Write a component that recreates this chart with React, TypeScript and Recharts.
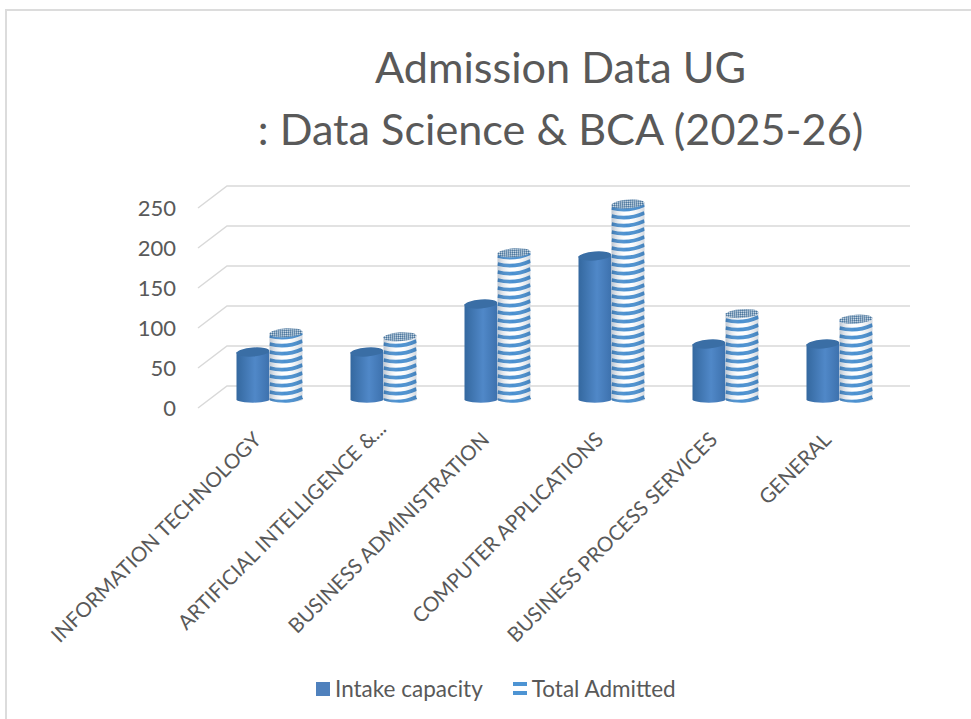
import React from 'react';
import { BarChart, Bar, XAxis, YAxis, CartesianGrid } from 'recharts';

const categories = [
  'INFORMATION TECHNOLOGY',
  'ARTIFICIAL INTELLIGENCE &...',
  'BUSINESS ADMINISTRATION',
  'COMPUTER APPLICATIONS',
  'BUSINESS PROCESS SERVICES',
  'GENERAL',
];
const intakeCapacity = [60, 60, 120, 180, 70, 70];
const totalAdmitted = [84, 79, 184, 245, 108, 101];
const yTicks = [0, 50, 100, 150, 200, 250];

const chartData = categories.map((name, i) => ({
  name,
  intake: intakeCapacity[i],
  admitted: totalAdmitted[i],
}));

const FONT = 'Lato, sans-serif';
const TEXT = '#595959';

// gridlines run along the floor of the 3D box, then across the back wall
const GridLine = ({ x1, x2, y1 }: any) => (
  <polyline
    points={`${x1 - 14.5},${y1 + 8} ${x1 + 14.5},${y1 - 14} ${x2 + 13.5},${y1 - 14}`}
    fill="none"
    stroke="#d9d9d9"
    strokeWidth={1.5}
  />
);

const IntakeBar = ({ x, y, width, height }: any) => {
  const rx = width / 2;
  const cx = x + rx;
  const bottom = y + height;
  return (
    <g>
      <path
        d={`M${x},${y} L${x},${bottom} A${rx},3.5 0 0 0 ${x + width},${bottom - 2} L${x + width},${y} Z`}
        fill="url(#intakeBody)"
      />
      <ellipse cx={cx} cy={y} rx={rx} ry={4.5} fill="#3a6ea5" transform={`rotate(-4 ${cx} ${y})`} />
    </g>
  );
};

const AdmittedBar = ({ x, y, width, height }: any) => {
  const rx = width / 2;
  const cx = x + rx;
  const bottom = y + height;
  const period = 8;
  const count = Math.ceil(height / period) + 1;
  const bands = [];
  for (let i = 0; i < count; i++) {
    const by = bottom - i * period;
    bands.push(
      <path
        key={i}
        d={`M${x},${by} Q${cx},${by + 4.5} ${x + width},${by - 3}`}
        fill="none"
        stroke="#4a90d0"
        strokeWidth={3.8}
      />,
    );
  }
  const clipId = `cyl-${Math.round(x)}`;
  const body = `M${x},${y} L${x},${bottom} A${rx},3.5 0 0 0 ${x + width},${bottom - 2} L${x + width},${y} Z`;
  return (
    <g>
      <clipPath id={clipId}>
        <path d={body} />
      </clipPath>
      <path d={body} fill="#ffffff" />
      <g clipPath={`url(#${clipId})`}>{bands}</g>
      <path d={body} fill="url(#admittedShade)" />
      <ellipse cx={cx} cy={y} rx={rx} ry={4.5} fill="url(#admittedTop)" transform={`rotate(-4 ${cx} ${y})`} />
    </g>
  );
};

const XTick = ({ x, y, payload }: any) => {
  // the truncated label sits further up its slope than the others
  const slide = payload.value.endsWith('...') ? 11 : 0;
  const tx = x - 7 + slide;
  const ty = y + 33 - slide;
  return (
    <text
      x={tx}
      y={ty}
      textAnchor="end"
      fontFamily={FONT}
      fontSize={20.5}
      fill={TEXT}
      transform={`rotate(-45 ${tx} ${ty})`}
    >
      {payload.value}
    </text>
  );
};

const YTick = ({ y, payload }: any) => (
  <text x={176} y={y + 16} textAnchor="end" fontFamily={FONT} fontSize={22} fill={TEXT}>
    {payload.value}
  </text>
);

const LegendRow = () => (
  <div
    style={{
      position: 'absolute',
      left: 316,
      top: 675,
      display: 'flex',
      alignItems: 'center',
      fontFamily: FONT,
      fontSize: 22.5,
      color: TEXT,
      whiteSpace: 'nowrap',
    }}
  >
    <span style={{ width: 14, height: 14, background: '#4f81bd', marginRight: 5 }} />
    <span>Intake capacity</span>
    <span
      style={{
        width: 14,
        height: 14,
        marginLeft: 30,
        marginRight: 5,
        background: 'linear-gradient(#4d94d3 0 4px, #fff 4px 9px, #4d94d3 9px 13px, #fff 13px)',
      }}
    />
    <span>Total Admitted</span>
  </div>
);

export default function App() {
  return (
    <div
      style={{
        position: 'absolute',
        left: 0,
        top: 0,
        width: 971,
        height: 719,
        background: '#fff',
        overflow: 'hidden',
      }}
    >
      <div
        style={{
          position: 'absolute',
          left: 5,
          top: 9,
          width: 975,
          height: 720,
          borderTop: '2px solid #dcdcdc',
          borderLeft: '2px solid #dcdcdc',
        }}
      />
      <BarChart
        width={971}
        height={719}
        data={chartData}
        barSize={33}
        barGap={0}
        margin={{ top: 200, right: 74.5, bottom: 0, left: 152.5 }}
        style={{ position: 'absolute', left: 0, top: 0 }}
      >
        <defs>
          <linearGradient id="intakeBody" x1="0" y1="0" x2="1" y2="0">
            <stop offset="0%" stopColor="#34689f" />
            <stop offset="55%" stopColor="#5088c8" />
            <stop offset="100%" stopColor="#3c70ac" />
          </linearGradient>
          <linearGradient id="admittedShade" x1="0" y1="0" x2="1" y2="0">
            <stop offset="0%" stopColor="#1f3f66" stopOpacity={0.3} />
            <stop offset="45%" stopColor="#ffffff" stopOpacity={0} />
            <stop offset="100%" stopColor="#1f3f66" stopOpacity={0.22} />
          </linearGradient>
          <pattern id="admittedTop" width="2" height="2" patternUnits="userSpaceOnUse">
            <rect width="2" height="2" fill="#7fa0bd" />
            <rect width="1" height="1" fill="#456f96" />
            <rect x="1" y="1" width="1" height="1" fill="#d5e0ea" />
          </pattern>
        </defs>
        <CartesianGrid vertical={false} horizontal={(props: any) => <GridLine key={props.key} {...props} />} />
        <XAxis dataKey="name" interval={0} height={319} axisLine={false} tickLine={false} tick={<XTick />} />
        <YAxis
          domain={[0, 250]}
          ticks={yTicks}
          width={60}
          axisLine={false}
          tickLine={false}
          tick={<YTick />}
        />
        <Bar dataKey="intake" name="Intake capacity" shape={<IntakeBar />} isAnimationActive={false} />
        <Bar dataKey="admitted" name="Total Admitted" shape={<AdmittedBar />} isAnimationActive={false} />
        <text textAnchor="middle" fontFamily={FONT} fontSize={43.2} fill={TEXT}>
          <tspan x={560.5} y={83}>Admission Data UG</tspan>
          <tspan x={560.5} y={145}>: Data Science &amp; BCA (2025-26)</tspan>
        </text>
      </BarChart>
      <LegendRow />
    </div>
  );
}
